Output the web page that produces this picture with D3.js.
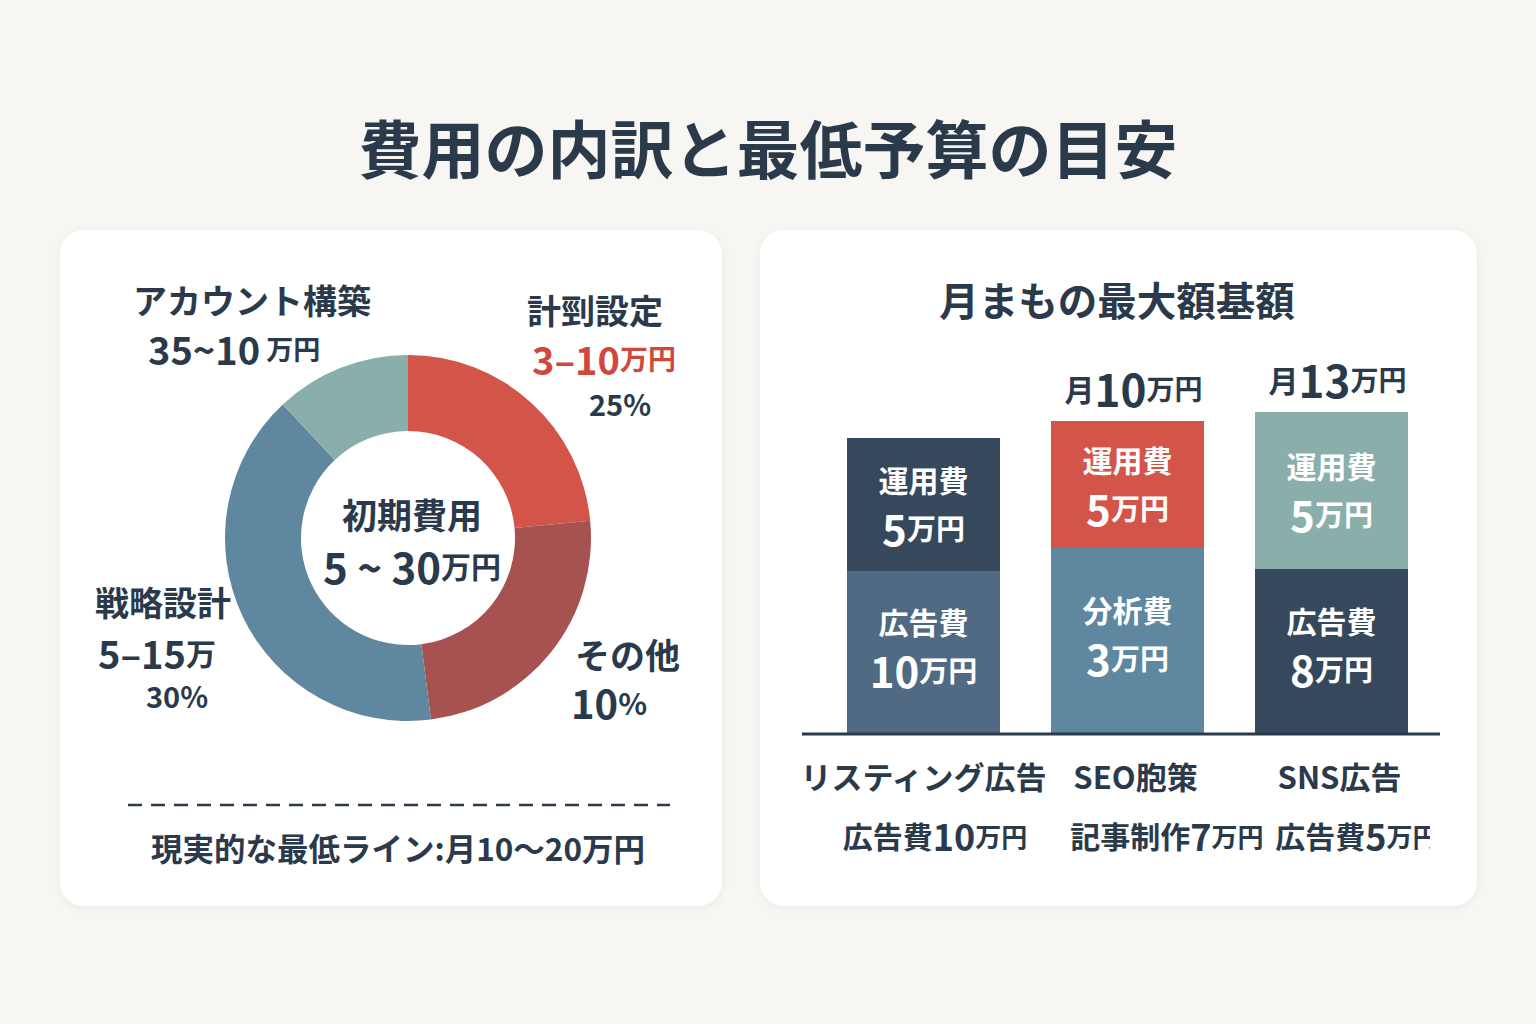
<!DOCTYPE html>
<html>
<head>
<meta charset="utf-8">
<script src="https://cdn.jsdelivr.net/npm/d3@7"></script>
<style>
  body { margin: 0; background: #f7f6f3; }
  svg { display: block; }
  text { font-family: "Noto Sans CJK JP", "Noto Sans", sans-serif; font-weight: 700; }
</style>
</head>
<body>
<script>
// chart size
var width = 1536;
var height = 1024;
var ink = "#2b3a4b";

// donut data (shares)
var donutParts = ["計剄設定", "その他", "戦略設計", "アカウント構築"];
var donutShares = [23.5, 24.5, 40, 12];
var donutColors = ["#d3554a", "#a65251", "#5f87a0", "#8aafab"];

// stacked bars (segment sizes as drawn, labels as printed)
var barCats = ["リスティング広告", "SEO胞策", "SNS広告"];
var barSubs = ["広告費10万円", "記事制作7万円", "広告費5万円"];
var barTotals = ["", "10", "13"];
var lowerNames = ["広告費", "分析費", "広告費"];
var lowerValues = ["10", "3", "8"];
var lowerSizes = [16.3, 18.6, 16.5];
var upperNames = ["運用費", "運用費", "運用費"];
var upperValues = ["5", "5", "5"];
var upperSizes = [13.3, 12.7, 15.7];
var lowerColors = ["#4f6a82", "#5f87a0", "#36485b"];
var upperColors = ["#36485b", "#d3554a", "#8aafab"];

var svg = d3.select("body")
  .append("svg")
  .attr("width", width)
  .attr("height", height);

var defs = svg.append("defs");
var shadow = defs.append("filter").attr("id", "shadow")
  .attr("x", "-10%").attr("y", "-10%").attr("width", "120%").attr("height", "120%");
shadow.append("feDropShadow")
  .attr("dx", 0).attr("dy", 2).attr("stdDeviation", 4)
  .attr("flood-color", "#000").attr("flood-opacity", 0.05);

svg.append("rect").attr("width", width).attr("height", height).attr("fill", "#f7f6f3");

// title
svg.append("text")
  .attr("x", 768).attr("y", 145)
  .attr("text-anchor", "middle").attr("dominant-baseline", "central")
  .attr("font-size", 63).attr("fill", ink)
  .text("費用の内訳と最低予算の目安");

// cards
svg.append("rect").attr("x", 60).attr("y", 230).attr("width", 662).attr("height", 676)
  .attr("rx", 24).attr("fill", "#fff").attr("filter", "url(#shadow)");
svg.append("rect").attr("x", 760).attr("y", 230).attr("width", 717).attr("height", 676)
  .attr("rx", 24).attr("fill", "#fff").attr("filter", "url(#shadow)");

// text with mixed sizes: parts = [[string, size], ...]
function label(g, x, y, anchor, parts, color) {
  var t = g.append("text")
    .attr("x", x).attr("y", y)
    .attr("text-anchor", anchor)
    .attr("dominant-baseline", "central")
    .attr("fill", color || ink);
  parts.forEach(function(p) {
    t.append("tspan").attr("font-size", p[1]).text(p[0]);
  });
  return t;
}

// donut
var pie = d3.pie().sort(null).value(function(d) { return d; });
var arc = d3.arc().innerRadius(107).outerRadius(183);
var donut = svg.append("g").attr("transform", "translate(408,538)");
donut.selectAll("path")
  .data(pie(donutShares))
  .enter()
  .append("path")
    .attr("d", arc)
    .attr("fill", function(d, i) { return donutColors[i]; });

var left = svg.append("g");
label(left, 133, 299, "start", [[donutParts[3], 34]]);
label(left, 148, 348, "start", [["35", 38], ["~", 38], ["10", 38], [" 万円", 27]]);
label(left, 527, 309, "start", [[donutParts[0], 34]]);
label(left, 532, 358, "start", [["3–10", 38], ["万円", 28]], "#d0473d");
label(left, 620, 403, "middle", [["25%", 29]]);
label(left, 95, 601, "start", [[donutParts[2], 34]]);
label(left, 98, 652, "start", [["5–15", 38], ["万", 30]]);
label(left, 177, 695, "middle", [["30%", 29]]);
label(left, 575, 653, "start", [[donutParts[1], 35]]);
label(left, 571, 702, "start", [["10", 40], ["%", 30]]);
label(left, 412, 513, "middle", [["初期費用", 35]]);
label(left, 412, 565, "middle", [["5 ~ 30", 42], ["万円", 30]]);

left.append("line")
  .attr("x1", 128).attr("x2", 670).attr("y1", 805).attr("y2", 805)
  .attr("stroke", ink).attr("stroke-width", 2.5)
  .attr("stroke-dasharray", "14,9");
label(left, 398, 847, "middle", [["現実的な最低ライン:月10～20万円", 31.5]]);

// right card
label(svg, 1117, 298, "middle", [["月まもの最大額基額", 39.5]]);

var x = d3.scaleBand()
  .domain(barCats)
  .range([847, 1408])
  .paddingInner(0.25);
var y = d3.scaleLinear()
  .domain([0, 40])
  .range([734, 334]);

var bars = svg.append("g");
barCats.forEach(function(c, i) {
  var bx = x(c), bw = x.bandwidth(), cx = bx + bw / 2;
  var top1 = y(lowerSizes[i]);
  var top2 = y(lowerSizes[i] + upperSizes[i]);
  bars.append("rect").attr("x", bx).attr("width", bw)
    .attr("y", top1).attr("height", y(0) - top1).attr("fill", lowerColors[i]);
  bars.append("rect").attr("x", bx).attr("width", bw)
    .attr("y", top2).attr("height", top1 - top2).attr("fill", upperColors[i]);

  var m1 = (y(0) + top1) / 2 - 8, m2 = (top1 + top2) / 2;
  label(bars, cx, m1 - 24, "middle", [[lowerNames[i], 30]], "#fff");
  label(bars, cx, m1 + 24, "middle", [[lowerValues[i], 42], ["万円", 29]], "#fff");
  label(bars, cx, m2 - 26, "middle", [[upperNames[i], 30]], "#fff");
  label(bars, cx, m2 + 22, "middle", [[upperValues[i], 42], ["万円", 29]], "#fff");

  if (barTotals[i]) {
    label(bars, cx + 6, top2 - 33, "middle", [["月", 30], [barTotals[i], 44], ["万円", 28]]);
  }
  label(bars, cx + (i ? 8 : 0), 775, "middle", [[c, 31]]);
});

bars.append("line")
  .attr("x1", 802).attr("x2", 1440).attr("y1", 734).attr("y2", 734)
  .attr("stroke", "#2c3b4c").attr("stroke-width", 3);

// sub labels (last one is cut off at the card edge)
defs.append("clipPath").attr("id", "cut")
  .append("rect").attr("x", 760).attr("y", 800).attr("width", 670).attr("height", 80);
var subs = svg.append("g").attr("clip-path", "url(#cut)");
var subX = [935, 1167, 1357];
barSubs.forEach(function(s, i) {
  var num = s.match(/\d+/)[0];
  var parts = s.split(num);
  label(subs, subX[i], 835, "middle", [[parts[0], 30], [num, 36], [parts[1], 26]]);
});
</script>
</body>
</html>
